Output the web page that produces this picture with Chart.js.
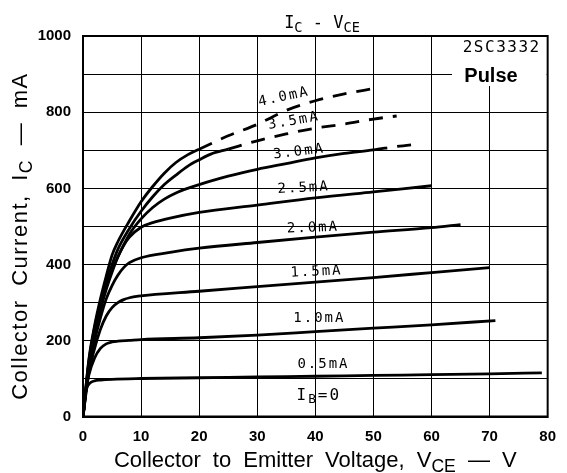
<!DOCTYPE html>
<html>
<head>
<meta charset="utf-8">
<script src="https://cdn.jsdelivr.net/npm/chart.js@4/dist/chart.umd.min.js"></script>
<style>
  html, body { margin: 0; padding: 0; background: #fff; }
  #wrap { width: 567px; height: 473px; }
</style>
</head>
<body>
<div id="wrap"><canvas id="ic"></canvas></div>
<script>
// Ic - Vce curves of 2SC3332
const vB0 = [0, 80];
const iB0 = [0, 0];

const v05 = [0, 0.3, 0.7, 1.2, 2, 3, 5, 10, 20, 30, 40, 50, 60, 70, 79];
const i05 = [0, 50, 78, 89, 95, 97, 99, 101, 103, 105, 107, 109, 111, 113, 116];

const v10 = [0, 0.5, 1, 2, 3, 4, 5, 6, 8, 10, 20, 30, 40, 50, 60, 71];
const i10 = [0, 70, 110, 155, 180, 192, 197, 199, 201, 203, 208, 215, 224, 233, 242, 253];

const v15 = [0, 1, 2, 3, 4, 5, 6, 7, 8, 9.5, 20, 30, 40, 50, 60, 70];
const i15 = [0, 115, 180, 230, 265, 287, 300, 308, 313, 317, 330, 342, 354, 366, 379, 392];

const v20 = [0, 1, 2, 3, 4, 5, 6, 7, 8, 10, 15, 20, 30, 40, 50, 60, 65];
const i20 = [0, 125, 200, 260, 310, 345, 372, 392, 405, 418, 432, 443, 458, 472, 485, 497, 505];

const v25 = [0, 1, 2, 3, 4, 5, 6, 7, 8, 10, 12, 15, 20, 30, 40, 50, 60];
const i25 = [0, 135, 215, 280, 335, 380, 420, 450, 472, 498, 510, 522, 537, 556, 575, 591, 607];

const v30 = [0, 1, 2, 3, 4, 5, 6, 8, 10, 12, 14, 16, 18, 20, 25, 30, 35, 40, 45, 50, 54, 58];
const i30 = [0, 140, 225, 290, 340, 385, 420, 480, 520, 550, 572, 588, 600, 610, 632, 650, 665, 680, 692, 701, 710, 717];

const v35 = [0, 1, 2, 3, 4, 5, 6, 8, 10, 12, 14, 16, 18, 20, 22, 25, 30, 35, 40, 45, 50, 54];
const i35 = [0, 145, 235, 300, 355, 400, 440, 495, 540, 578, 610, 635, 658, 675, 690, 703, 725, 743, 758, 769, 782, 790];

const v40 = [0, 1, 2, 3, 4, 5, 6, 8, 10, 12, 14, 16, 18, 20, 25, 30, 35, 40, 45, 50];
const i40 = [0, 150, 240, 310, 370, 425, 460, 515, 565, 605, 640, 668, 688, 703, 738, 768, 805, 830, 848, 862];

// base current of each curve and where its trace turns dashed
const curveNames = ['IB=0', '0.5mA', '1.0mA', '1.5mA', '2.0mA', '2.5mA', '3.0mA', '3.5mA', '4.0mA'];
const curveV = [vB0, v05, v10, v15, v20, v25, v30, v35, v40];
const curveI = [iB0, i05, i10, i15, i20, i25, i30, i35, i40];
const dashFrom = [null, null, null, null, null, null, 50, 25, 20];

const xTicks = [0, 10, 20, 30, 40, 50, 60, 70, 80];
const yTicks = [0, 200, 400, 600, 800, 1000];

// curve labels: [text, Vce, Ic, angle]
const curveLabels = [
    ['4.0mA', 34.6, 840, -12],
    ['3.5mA', 36.3, 777, -10],
    ['3.0mA', 37.2, 696, -7],
    ['2.5mA', 38.0, 601, -3],
    ['2.0mA', 39.6, 496, -2],
    ['1.5mA', 40.2, 381, -3],
    ['1.0mA', 40.7, 260, 0],
    ['0.5mA', 41.4, 137, 0]
];

const MONO = '"DejaVu Sans Mono", "Liberation Mono", monospace';
const SANS = '"Liberation Sans", Arial, sans-serif';

// draw a run of text pieces, some of them subscripted
function drawParts(ctx, parts, x, y, size, family, align) {
    let w = 0;
    const widths = parts.map(p => {
        ctx.font = (p.sub ? size * 0.8 : size) + 'px ' + family;
        const pw = ctx.measureText(p.t).width;
        w += pw;
        return pw;
    });
    let cx = align === 'center' ? x - w / 2 : (align === 'right' ? x - w : x);
    parts.forEach((p, k) => {
        ctx.font = (p.sub ? size * 0.8 : size) + 'px ' + family;
        ctx.fillText(p.t, cx, p.sub ? y + size * 0.23 : y);
        cx += widths[k];
    });
}

const annotations = {
    id: 'annotations',
    afterDatasetsDraw(chart) {
        const ctx = chart.ctx;
        const xs = chart.scales.x, ys = chart.scales.y;
        const a = chart.chartArea;
        ctx.save();
        // the datasheet leaves the grid blank behind the type number
        ctx.fillStyle = '#fff';
        ctx.fillRect(452, a.top + 1, a.right - 453, 49);

        ctx.fillStyle = '#000';
        ctx.textBaseline = 'middle';
        ctx.textAlign = 'center';
        ctx.letterSpacing = '2px';
        ctx.font = '14px ' + MONO;
        curveLabels.forEach(([t, v, i, ang]) => {
            ctx.save();
            ctx.translate(xs.getPixelForValue(v), ys.getPixelForValue(i));
            ctx.rotate(ang * Math.PI / 180);
            ctx.fillText(t, 0, 0);
            ctx.restore();
        });
        ctx.textAlign = 'left';
        drawParts(ctx, [{t: 'I'}, {t: 'B', sub: true}, {t: '=0'}],
            xs.getPixelForValue(40.6), ys.getPixelForValue(55), 16, MONO, 'center');

        // frame
        ctx.lineWidth = 2;
        ctx.strokeStyle = '#000';
        ctx.strokeRect(a.left, a.top, a.right - a.left, a.bottom - a.top);

        // type number
        ctx.textAlign = 'right';
        ctx.textBaseline = 'alphabetic';
        ctx.letterSpacing = '1.5px';
        ctx.font = '16px ' + MONO;
        ctx.fillText('2SC3332', a.right - 7, a.top + 16);
        ctx.letterSpacing = '0px';
        ctx.font = 'bold 20px ' + SANS;
        ctx.fillText('Pulse', a.right - 30, a.top + 46);
        ctx.restore();
    },
    afterDraw(chart) {
        const ctx = chart.ctx;
        const a = chart.chartArea;
        ctx.save();
        ctx.fillStyle = '#000';
        ctx.textBaseline = 'alphabetic';
        ctx.textAlign = 'left';
        // title
        drawParts(ctx, [{t: 'I'}, {t: 'C', sub: true}, {t: ' - V'}, {t: 'CE', sub: true}],
            322, 28, 17, MONO, 'center');
        // axis titles, with the wide word gaps of the original
        ctx.wordSpacing = '6px';
        drawParts(ctx, [{t: 'Collector to Emitter Voltage, V'}, {t: 'CE', sub: true}, {t: ' \u2014 V'}],
            (a.left + a.right) / 2, 467, 22, SANS, 'center');
        ctx.letterSpacing = '1.5px';
        ctx.translate(27, 236);
        ctx.rotate(-Math.PI / 2);
        drawParts(ctx, [{t: 'Collector Current, I'}, {t: 'C', sub: true}, {t: ' \u2014 mA'}],
            0, 0, 22, SANS, 'center');
        ctx.restore();
    }
};

const datasets = curveNames.map((name, k) => ({
    label: name,
    data: curveV[k].map((v, j) => ({x: v, y: curveI[k][j]})),
    borderColor: '#000',
    borderWidth: 2.8,
    pointRadius: 0,
    fill: false,
    cubicInterpolationMode: 'monotone',
    segment: {
        borderDash: c => (dashFrom[k] !== null && c.p0.parsed.x >= dashFrom[k]) ? [14, 10] : undefined
    }
}));

new Chart(document.getElementById('ic'), {
    type: 'line',
    data: { datasets: datasets },
    options: {
        responsive: true,
        maintainAspectRatio: false,
        animation: false,
        layout: { padding: { top: 36, right: 13, bottom: 16, left: 0 } },
        plugins: {
            legend: { display: false },
            tooltip: { enabled: false }
        },
        scales: {
            x: {
                type: 'linear',
                min: 0, max: 80,
                afterFit: s => { s.height = 40; },
                afterBuildTicks: s => { s.ticks = xTicks.map(v => ({value: v})); },
                grid: { color: '#000', lineWidth: 1, drawTicks: false },
                border: { color: '#000', width: 2 },
                ticks: {
                    color: '#000', padding: 11,
                    font: { family: SANS, weight: 'bold', size: 15 }
                }
            },
            y: {
                min: 0, max: 1000,
                afterFit: s => { s.width = 83; },
                afterBuildTicks: s => {
                    const t = [];
                    for (let v = 0; v <= 1000; v += 100) t.push({value: v});
                    s.ticks = t;
                },
                grid: { color: '#000', lineWidth: 1, drawTicks: false },
                border: { color: '#000', width: 2 },
                ticks: {
                    color: '#000', padding: 12,
                    font: { family: SANS, weight: 'bold', size: 15 },
                    callback: v => yTicks.includes(v) ? String(v) : ''
                }
            }
        }
    },
    plugins: [annotations]
});
</script>
</body>
</html>
